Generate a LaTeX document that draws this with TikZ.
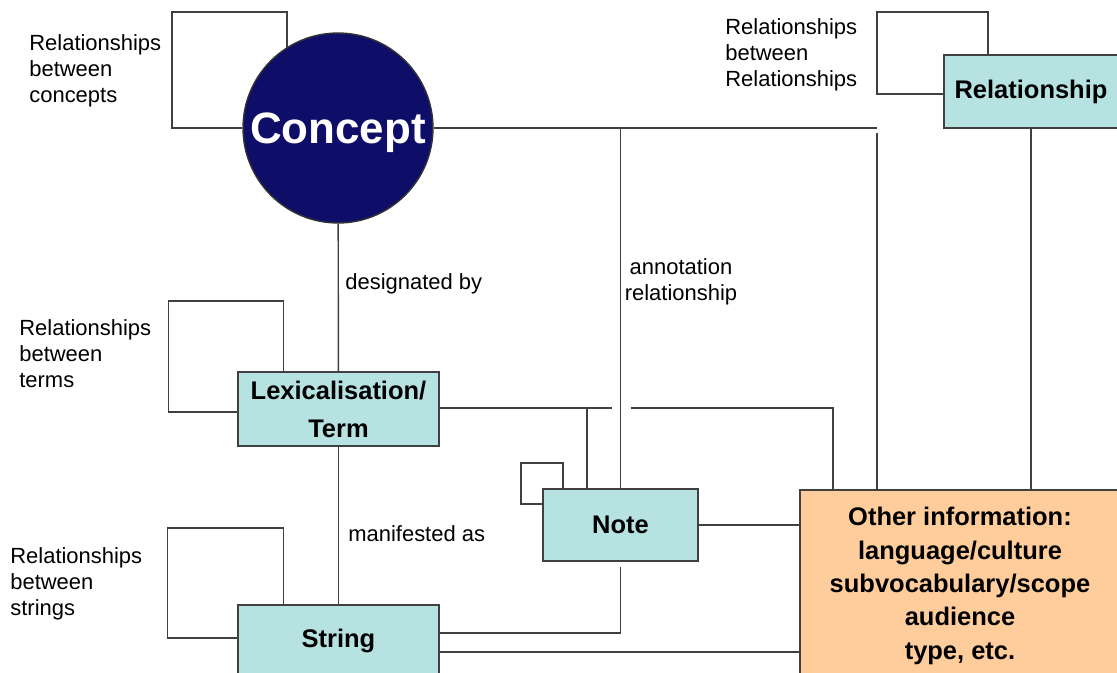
\documentclass[tikz,border=0pt]{standalone}
\usepackage{fontspec}
\setmainfont{Liberation Sans}
\usetikzlibrary{positioning, backgrounds}
\usepackage{xcolor}
\definecolor{conceptblue}{RGB}{14,14,104}
\definecolor{termcyan}{RGB}{182,226,226}
\definecolor{infopeach}{RGB}{255,205,155}

\begin{document}
\begin{tikzpicture}[
    x=0.02cm, y=-0.02cm,
    concept/.style={circle, draw=black!80, fill=conceptblue, line width=0.8pt, minimum size=3.8cm, inner sep=0pt, text depth=0pt, text=white, font=\fontsize{25}{28}\selectfont\bfseries},
    entity/.style={rectangle, draw=black!75, fill=termcyan, line width=0.8pt, align=center, inner sep=0pt, font=\fontsize{14.5}{21.6}\selectfont\bfseries},
    info/.style={entity, fill=infopeach, font=\fontsize{14.5}{19}\selectfont\bfseries},
    link/.style={draw=black!75, line width=0.8pt},
    caption/.style={align=left, inner sep=0pt, font=\fontsize{12.5}{14.8}\selectfont}
]
    \useasboundingbox (0,0) rectangle (1117,673);
    \clip (0,0) rectangle (1117,673);

    % Concept
    \node[concept] (concept) at (338,128) {Concept};

    % Lexicalisation / Term
    \node[entity, minimum width=4.02cm, minimum height=1.48cm] (term) at (338.5,409) {Lexicalisation/\\Term};

    % String
    \node[entity, minimum width=4.02cm, minimum height=1.44cm] (string) at (338.5,641) {String};

    % Note
    \node[entity, minimum width=3.1cm, minimum height=1.44cm] (note) at (620.5,525) {Note};

    % Relationship
    \node[entity, minimum width=3.48cm, minimum height=1.46cm] (relation) at (1031,91.5) {Relationship};

    % Other information
    \node[info, minimum width=6.4cm, minimum height=3.84cm] (other) at (960,586) {Other information:\\language/culture\\subvocabulary/scope\\audience\\type, etc.};

    % Captions
    \node[caption, anchor=west] (conceptrel) at (29,71) {Relationships\\between\\concepts};
    \node[caption, anchor=west] (relrel) at (725,55) {Relationships\\between\\Relationships};
    \node[caption, anchor=west] (termrel) at (19,354) {Relationships\\between\\terms};
    \node[caption, anchor=west] (stringrel) at (10,584) {Relationships\\between\\strings};
    \node[caption, anchor=west] (designated) at (345,284) {designated by};
    \node[caption, anchor=west] (manifested) at (348,534) {manifested as};
    \node[caption, align=center] (annotation) at (681,282) {annotation\\relationship};

    \begin{scope}[on background layer]
        % Self loops
        \draw[link] (concept) -- ++(-166,0) -- ++(0,-116) -- ++(115,0) -- ++(0,60);
        \draw[link] (relation) ++(0,2.5) -- ++(-154,0) -- ++(0,-82) -- ++(111,0) -- ++(0,60);
        \draw[link] (term) ++(0,3) -- ++(-170,0) -- ++(0,-111) -- ++(115,0) -- ++(0,80);
        \draw[link] (string) ++(0,-3) -- ++(-171,0) -- ++(0,-110) -- ++(116,0) -- ++(0,90);
        \draw[link] (note) ++(0,-21) -- ++(-99.5,0) -- ++(0,-41) -- ++(42,0) -- ++(0,40);

        % Relationships
        \draw[link] (concept) -- (term);
        \draw[link] (term) -- (string);
        \coordinate (cjog) at (877,128);
        \draw[link] (concept) -- (cjog);
        \draw[link] (cjog) ++(0,5) -- (cjog |- other.north);
        \draw[link] (note) -- (note |- concept);
        \draw[link] (relation) -- (relation |- other.north);
        \coordinate (tdrop) at (833,408);
        \coordinate (tnote) at (587,408);
        \draw[link] (term.east |- tnote) -- ++(172,0);
        \draw[link] (term.east |- tnote) ++(191,0) -- (tdrop) -- (tdrop |- other.north);
        \draw[link] (tnote) -- (tnote |- note.north);
        \draw[link] (note) -- (note -| other.west);
        \coordinate (nstr) at (620.5,633);
        \draw[link] (note.south) ++(0,5) -- (nstr) -- (nstr -| string.east);
        \coordinate (sother) at (439,652);
        \draw[link] (sother) -- (sother -| other.west);
    \end{scope}

\end{tikzpicture}
\end{document}
